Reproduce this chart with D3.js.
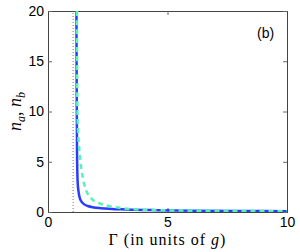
<!DOCTYPE html>
<html>
<head>
<meta charset="utf-8">
<script src="https://cdn.jsdelivr.net/npm/d3@7"></script>
<style>
  body { margin: 0; background: #fff; }
  .tick text { font-family: 'Liberation Sans', Arial, sans-serif; font-size: 14px; fill: #000; }
</style>
</head>
<body>
<script>
// n_a (blue solid)
var blueG = [1.19, 1.20, 1.215, 1.24, 1.28, 1.34, 1.45, 1.66, 2.2, 3.3, 4.6, 6, 8, 10]
var blueN = [20, 12, 6, 3, 2, 1.3, 0.9, 0.6, 0.38, 0.25, 0.18, 0.13, 0.1, 0.08]

// n_b (green dashed)
var greenG = [1.21, 1.225, 1.26, 1.30, 1.35, 1.45, 1.59, 1.8, 2.08, 2.5, 3.06, 3.76, 4.46, 6, 8, 10]
var greenN = [20, 11, 8, 6.5, 5.2, 3.5, 2.2, 1.38, 0.94, 0.62, 0.39, 0.25, 0.19, 0.13, 0.1, 0.08]

var gammaC = 1.05
var xTicks = [0, 5, 10]
var yTicks = [0, 5, 10, 15, 20]

var w = 300
var h = 252

var margin = {
  top: 11,
  right: 13,
  bottom: 40,
  left: 48
}

var width = w - margin.left - margin.right
var height = h - margin.top - margin.bottom

var svg = d3.select('body')
            .append('svg')
            .attr('width', w)
            .attr('height', h)

var chart = svg.append('g')
              .attr('transform', 'translate(' + margin.left + ',' + margin.top + ')')

var x = d3.scaleLinear()
        .domain([0, 10])
        .range([0, width])

var y = d3.scaleLinear()
        .domain([0, 20])
        .range([height, 0])

var defs = svg.append('defs')
defs.append('clipPath')
    .attr('id', 'clip')
  .append('rect')
    .attr('width', width)
    .attr('height', height)

// axes, ticks pointing inward (matlab style)
chart.append('g')
    .attr('transform', 'translate(0,' + height + ')')
    .call(d3.axisBottom(x).tickValues(xTicks).tickSize(-4).tickPadding(5))
chart.append('g')
    .call(d3.axisTop(x).tickValues(xTicks).tickSize(-4).tickFormat(''))
chart.append('g')
    .call(d3.axisLeft(y).tickValues(yTicks).tickSize(-4).tickPadding(4))
chart.append('g')
    .attr('transform', 'translate(' + width + ',0)')
    .call(d3.axisRight(y).tickValues(yTicks).tickSize(-4).tickFormat(''))

chart.selectAll('.domain').attr('stroke', '#444')
chart.selectAll('.tick line').attr('stroke', '#666')

// dotted line at the critical value
chart.append('line')
    .attr('x1', x(gammaC))
    .attr('x2', x(gammaC))
    .attr('y1', y(0))
    .attr('y2', y(20))
    .attr('stroke', '#777')
    .attr('stroke-width', 1)
    .attr('stroke-dasharray', '1,2')

var plot = chart.append('g').attr('clip-path', 'url(#clip)')

var line = d3.line()
            .x(function (d) { return x(d[0]) })
            .y(function (d) { return y(d[1]) })
            .curve(d3.curveMonotoneX)

plot.append('path')
    .datum(d3.zip(blueG, blueN))
    .attr('d', line)
    .attr('fill', 'none')
    .attr('stroke', '#2a3cff')
    .attr('stroke-width', 2.5)

plot.append('path')
    .datum(d3.zip(greenG, greenN))
    .attr('d', line)
    .attr('fill', 'none')
    .attr('stroke', '#58f2b4')
    .attr('stroke-width', 2.5)
    .attr('stroke-dasharray', '5,4')

// panel label
chart.append('text')
    .attr('x', width - 30)
    .attr('y', 27)
    .attr('font-family', 'Liberation Sans, Arial, sans-serif')
    .attr('font-size', 14)
    .text('(b)')

// y label
var yl = svg.append('text')
    .attr('transform', 'translate(21,' + (margin.top + height / 2) + ') rotate(-90)')
    .attr('text-anchor', 'middle')
    .attr('font-family', 'Liberation Serif, serif')
    .attr('font-size', 18)
yl.append('tspan').attr('font-style', 'italic').text('n')
yl.append('tspan').attr('font-style', 'italic').attr('font-size', 12).attr('dy', 4).text('a')
yl.append('tspan').attr('dy', -4).text(', ')
yl.append('tspan').attr('font-style', 'italic').text('n')
yl.append('tspan').attr('font-style', 'italic').attr('font-size', 12).attr('dy', 4).text('b')

// x label
var xl = svg.append('text')
    .attr('x', margin.left + width / 2)
    .attr('y', 245)
    .attr('text-anchor', 'middle')
    .attr('font-family', 'Liberation Serif, serif')
    .attr('font-size', 16)
    .attr('letter-spacing', 1)
xl.append('tspan').text('Γ (in units of ')
xl.append('tspan').attr('font-style', 'italic').text('g')
xl.append('tspan').text(')')
</script>
</body>
</html>
